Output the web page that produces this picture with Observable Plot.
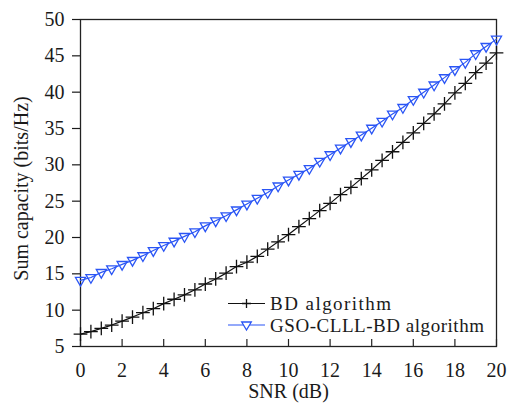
<!DOCTYPE html>
<html>
<head>
<meta charset="utf-8">
<script src="https://cdn.jsdelivr.net/npm/d3@7"></script>
<script src="https://cdn.jsdelivr.net/npm/@observablehq/plot@0.6"></script>
<style>
  html, body { margin: 0; padding: 0; background: #fff; }
  #wrap { position: relative; width: 507px; height: 408px; }
  #legend { position: absolute; left: 0; top: 0; pointer-events: none; }
</style>
</head>
<body>
<div id="wrap"></div>
<script>
// SNR (dB)
const snr = [0, 0.5, 1, 1.5, 2, 2.5, 3, 3.5, 4, 4.5, 5, 5.5, 6, 6.5, 7, 7.5, 8, 8.5, 9, 9.5,
  10, 10.5, 11, 11.5, 12, 12.5, 13, 13.5, 14, 14.5, 15, 15.5, 16, 16.5, 17, 17.5, 18, 18.5, 19, 19.5, 20];
// Sum capacity (bits/Hz)
const bd = [6.7, 7.05, 7.5, 7.95, 8.5, 9.05, 9.65, 10.2, 10.9, 11.5,
  12.1, 12.8, 13.6, 14.3, 15.1, 16.0, 16.6, 17.4, 18.4, 19.4,
  20.4, 21.5, 22.6, 23.7, 24.7, 25.9, 26.9, 28.1, 29.3, 30.6,
  31.8, 33.1, 34.4, 35.7, 37.0, 38.4, 39.9, 41.2, 42.7, 44.0, 45.4];
const gso = [14.1, 14.5, 15.2, 15.7, 16.3, 16.85, 17.5, 18.2, 18.9, 19.5,
  20.15, 20.8, 21.6, 22.3, 23.0, 23.8, 24.6, 25.4, 26.2, 27.1,
  27.9, 28.7, 29.5, 30.5, 31.4, 32.3, 33.2, 34.1, 35.05, 36.0,
  37.0, 37.9, 39.0, 40.0, 41.0, 42.0, 43.1, 44.1, 45.3, 46.3, 47.3];
const seriesNames = ["BD algorithm", "GSO-CLLL-BD algorithm"];
const xTicks = [0, 2, 4, 6, 8, 10, 12, 14, 16, 18, 20];
const yTicks = [5, 10, 15, 20, 25, 30, 35, 40, 45, 50];
const xLabel = "SNR (dB)";
const yLabel = "Sum capacity (bits/Hz)";

const BLUE = "#2a55f5";
const FONT = "'Liberation Serif', 'Times New Roman', serif";
const bdData = snr.map((x, i) => ({x, y: bd[i]}));
const gsoData = snr.map((x, i) => ({x, y: gso[i]}));

const chart = Plot.plot({
  width: 507,
  height: 408,
  marginLeft: 80,
  marginRight: 11,
  marginTop: 19,
  marginBottom: 62,
  style: {fontFamily: FONT, fontSize: "20px", color: "#1a1a1a", background: "#fff"},
  x: {domain: [0, 20]},
  y: {domain: [5, 50]},
  marks: [
    Plot.frame({stroke: "#222", strokeWidth: 1.3}),
    Plot.axisY({ticks: yTicks, tickSize: 8, tickPadding: 8, fontSize: 20, label: null, strokeWidth: 1.2}),
    Plot.axisX({ticks: xTicks, tickSize: 0, tickPadding: 16, fontSize: 20, label: null}),
    Plot.tickX(xTicks, {x: d => d, stroke: "#222", strokeWidth: 1.2, insetTop: 320}),
    Plot.text([xLabel], {frameAnchor: "bottom", dy: 51, lineAnchor: "bottom", textAnchor: "middle", fontSize: 20, fill: "#1a1a1a"}),
    Plot.text([yLabel], {frameAnchor: "left", rotate: -90, dx: -53, dy: 5.5, lineAnchor: "bottom", textAnchor: "middle", fontSize: 20, fill: "#1a1a1a"}),
    Plot.line(bdData, {x: "x", y: "y", stroke: "#111", strokeWidth: 1.2}),
    Plot.dot(bdData, {x: "x", y: "y", symbol: "plus", r: 4.5, stroke: "#111", strokeWidth: 1.3}),
    Plot.line(gsoData, {x: "x", y: "y", stroke: BLUE, strokeWidth: 1.2}),
    Plot.dot(gsoData, {x: "x", y: "y", symbol: "triangle2", rotate: 180, r: 4.8, stroke: BLUE, fill: "white", fillOpacity: 0, strokeWidth: 1.3})
  ]
});
const wrap = document.getElementById("wrap");
wrap.appendChild(chart);

// Legend (inside plot area, lower right)
const ns = "http://www.w3.org/2000/svg";
const leg = document.createElementNS(ns, "svg");
leg.setAttribute("id", "legend");
leg.setAttribute("width", 507);
leg.setAttribute("height", 408);
const rows = [
  {name: seriesNames[0], color: "#111", y: 303.5, sym: "plus"},
  {name: seriesNames[1], color: BLUE, y: 325, sym: "tri"}
];
rows.forEach(r => {
  const l = document.createElementNS(ns, "line");
  l.setAttribute("x1", 228); l.setAttribute("x2", 265);
  l.setAttribute("y1", r.y); l.setAttribute("y2", r.y);
  l.setAttribute("stroke", r.color); l.setAttribute("stroke-width", 1.2);
  leg.appendChild(l);
  const p = document.createElementNS(ns, "path");
  const cx = 246.5, cy = r.y;
  if (r.sym === "plus") {
    p.setAttribute("d", `M${cx-4.5},${cy}H${cx+4.5}M${cx},${cy-4.5}V${cy+4.5}`);
    p.setAttribute("fill", "none");
  } else {
    p.setAttribute("d", `M${cx-4.8},${cy-3}L${cx+4.8},${cy-3}L${cx},${cy+5}Z`);
    p.setAttribute("fill", "white");
  }
  p.setAttribute("stroke", r.color); p.setAttribute("stroke-width", 1.3);
  leg.appendChild(p);
  const t = document.createElementNS(ns, "text");
  t.setAttribute("x", 270); t.setAttribute("y", r.y + 6.5);
  t.setAttribute("font-family", FONT);
  t.setAttribute("font-size", 19);
  t.setAttribute("textLength", r.sym === "plus" ? 121 : 214);
  t.setAttribute("fill", "#1a1a1a");
  t.textContent = r.name;
  leg.appendChild(t);
});
wrap.appendChild(leg);
</script>
</body>
</html>
